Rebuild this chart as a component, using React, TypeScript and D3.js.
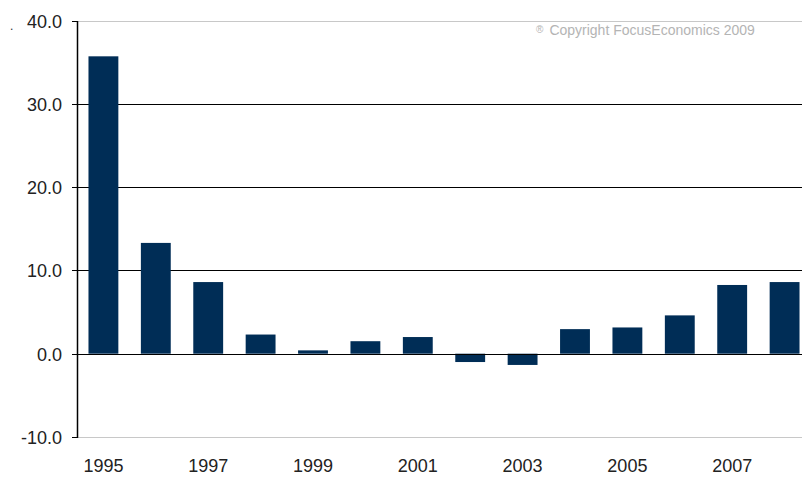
import React from "react";
import * as d3 from "d3";

const years = ["1995","1996","1997","1998","1999","2000","2001","2002","2003","2004","2005","2006","2007","2008"];
const values = [35.7, 13.3, 8.6, 2.3, 0.4, 1.5, 2.0, -1.0, -1.35, 2.95, 3.15, 4.6, 8.25, 8.6];
const yTicks = [-10, 0, 10, 20, 30, 40];
const xLabelYears = ["1995","1997","1999","2001","2003","2005","2007"];

export default function App() {
  const W = 802, H = 477;
  const left = 78, right = 810, top = 20.5, bottom = 437;
  const x = d3.scaleBand().domain(years).range([left, right]).paddingInner(0.43).paddingOuter(0.2);
  const y = d3.scaleLinear().domain([-10, 40]).range([bottom, top]);
  const font = "'Liberation Sans', Arial, sans-serif";
  return (
    <svg width={W} height={H} style={{ position: "absolute", left: 0, top: 0, background: "#fff" }}>
      <text x={10} y={30} fontFamily={font} fontSize={12} fill="#333">.</text>
      {yTicks.map((t) => {
        const gy = Math.round(y(t)) + 0.5;
        const light = t === 40 || t === -10;
        return (
          <g key={t}>
            <line x1={left} x2={W} y1={gy} y2={gy} stroke={light ? "#c8c8c8" : "#000"} strokeWidth={1} />
            <line x1={left - 6} x2={left} y1={gy} y2={gy} stroke="#000" />
            <text x={62} y={gy} dy="0.35em" textAnchor="end" fontFamily={font} fontSize={18} fill="#222">
              {t.toFixed(1)}
            </text>
          </g>
        );
      })}
      {years.map((yr, i) => {
        const v = values[i];
        const y0 = y(0), y1 = y(v);
        return (
          <rect key={yr} x={x(yr)} width={x.bandwidth()} y={Math.min(y0, y1)} height={Math.abs(y1 - y0)} fill="#002D56" />
        );
      })}
      <line x1={left} x2={W} y1={Math.round(y(0)) + 0.5} y2={Math.round(y(0)) + 0.5} stroke="#000" />
      <line x1={left - 0.5} x2={left - 0.5} y1={Math.round(y(40))} y2={Math.round(y(-10)) + 1} stroke="#000" strokeWidth={1.5} />
      {xLabelYears.map((yr) => (
        <text key={yr} x={(x(yr) as number) + x.bandwidth() / 2} y={472} textAnchor="middle" fontFamily={font} fontSize={18} fill="#222">
          {yr}
        </text>
      ))}
      <text x={536} y={35} fontFamily={font} fontSize={14} fill="#b4b4b4">
        <tspan fontSize={10} dy="-2">®</tspan>
        <tspan dx="6" dy="2">Copyright FocusEconomics 2009</tspan>
      </text>
    </svg>
  );
}
